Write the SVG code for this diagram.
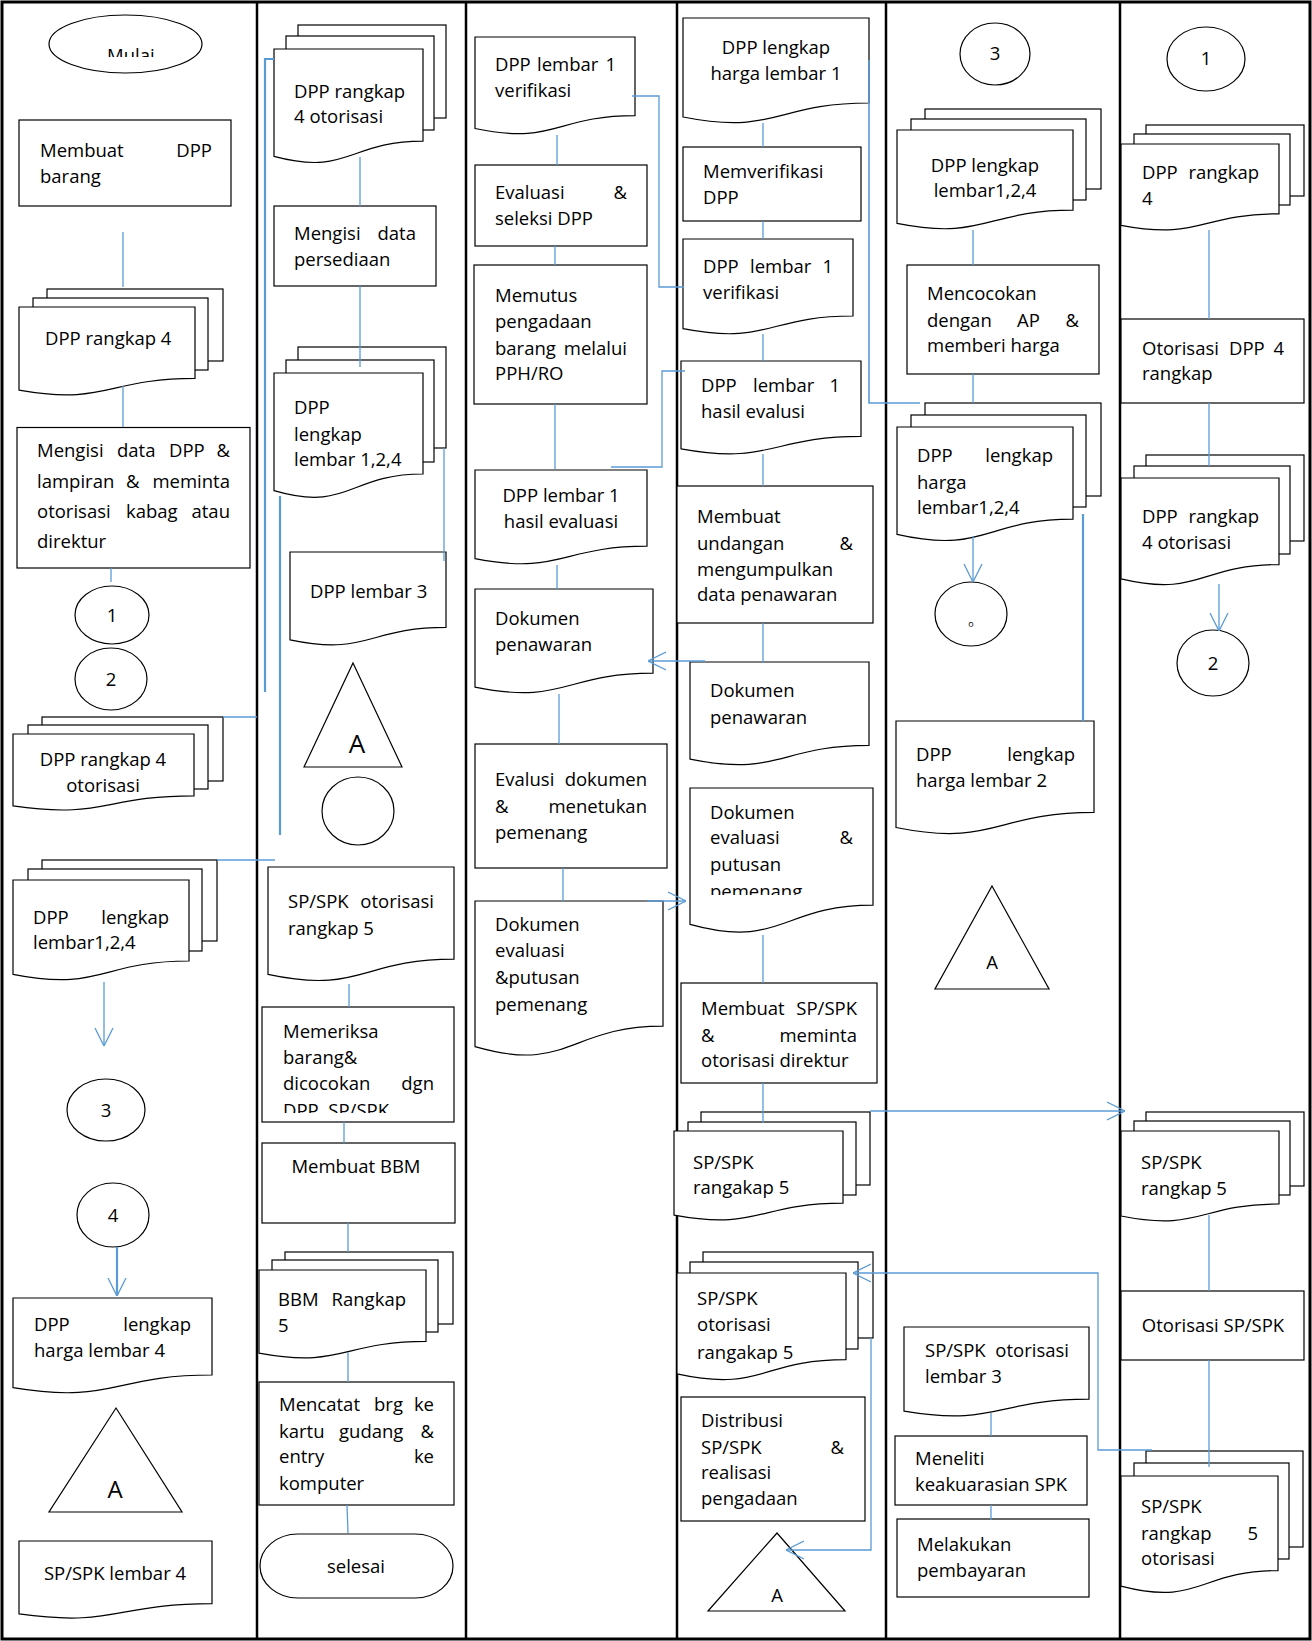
<svg xmlns="http://www.w3.org/2000/svg" width="1312" height="1641" viewBox="0 0 1312 1641">
<style>
.s{fill:#fff;stroke:#000;stroke-width:1.2}
.t{font-family:"Open Sans","Liberation Sans",sans-serif;font-size:18.5px;fill:#000}
.c{text-anchor:middle}
.e{text-anchor:end}
.k{fill:none;stroke:#5B9BD5;stroke-width:1.3}
.k2{fill:none;stroke:#5B9BD5;stroke-width:2.2}
.a{marker-end:url(#arr)}
.lane{stroke:#000;stroke-width:2.5}
</style>
<defs>
<marker id="arr" viewBox="0 0 18 20" refX="18" refY="10" markerWidth="18" markerHeight="20" markerUnits="userSpaceOnUse" orient="auto">
<path d="M0,1 L18,10 L0,19" fill="none" stroke="#5B9BD5" stroke-width="1.3"/>
</marker>
<clipPath id="clipMulai"><rect x="40" y="15" width="170" height="42"/></clipPath>
<clipPath id="clipPeriksa"><rect x="262" y="1007" width="192" height="106"/></clipPath>
<clipPath id="clipPemenang"><rect x="690" y="788" width="183" height="107"/></clipPath>
</defs>
<rect x="0" y="0" width="1312" height="1641" fill="#fff"/>
<g id="lanes">
<rect x="2" y="2" width="1308" height="1637" fill="none" stroke="#000" stroke-width="3"/>
<line class="lane" x1="257" y1="2" x2="257" y2="1639"/>
<line class="lane" x1="466" y1="2" x2="466" y2="1639"/>
<line class="lane" x1="677" y1="2" x2="677" y2="1639"/>
<line class="lane" x1="886" y1="2" x2="886" y2="1639"/>
<line class="lane" x1="1120" y1="2" x2="1120" y2="1639"/>
</g>

<!-- Column 1 -->
<g id="n-mulai">
<ellipse class="s" cx="125.5" cy="44" rx="76.5" ry="29"/>
<text class="t" x="107" y="62" clip-path="url(#clipMulai)">Mulai</text>
</g>
<g id="n-membuat-dpp">
<rect class="s" x="19" y="120" width="212" height="86"/>
<text class="t" x="40" y="157">Membuat</text><text class="t e" x="212" y="157">DPP</text>
<text class="t" x="40" y="183">barang</text>
</g>
<g id="n-dpp-rangkap4-c1">
<rect class="s" x="47" y="289" width="176" height="72"/>
<rect class="s" x="33" y="298" width="175" height="72"/>
<path class="s" d="M19,307 H195 V378.4 C107,378.4 107,405.6 19,390.1 Z"/>
<text class="t" x="45" y="345">DPP rangkap 4</text>
</g>
<g id="n-mengisi-dpp">
<rect class="s" x="17" y="427.5" width="233" height="140.5"/>
<text class="t" x="37" y="457">Mengisi</text><text class="t" x="117" y="457">data</text><text class="t" x="169" y="457">DPP</text><text class="t e" x="230" y="457">&amp;</text>
<text class="t" x="37" y="487.5">lampiran</text><text class="t" x="126" y="487.5">&amp;</text><text class="t e" x="230" y="487.5">meminta</text>
<text class="t" x="37" y="518">otorisasi</text><text class="t" x="126" y="518">kabag</text><text class="t e" x="230" y="518">atau</text>
<text class="t" x="37" y="548">direktur</text>
</g>
<g id="n-c1-1">
<ellipse class="s" cx="112" cy="615" rx="37" ry="29"/>
<text class="t c" x="112" y="621.5">1</text>
</g>
<g id="n-c1-2">
<ellipse class="s" cx="111" cy="679" rx="36" ry="31"/>
<text class="t c" x="111" y="686">2</text>
</g>
<g id="n-dpp-r4-otor-c1">
<rect class="s" x="42" y="717" width="181" height="64"/>
<rect class="s" x="28" y="725" width="180" height="64"/>
<path class="s" d="M13,734 H194 V795.8 C103.5,795.8 103.5,819.3 13,805.9 Z"/>
<text class="t c" x="103" y="766">DPP rangkap 4</text>
<text class="t c" x="103" y="792">otorisasi</text>
</g>
<g id="n-dpp-lengkap-c1">
<rect class="s" x="42" y="860" width="175" height="81"/>
<rect class="s" x="28" y="869" width="174" height="82"/>
<path class="s" d="M13,880 H189 V961 C101,961 101,991.9 13,974.3 Z"/>
<text class="t" x="33" y="924">DPP</text><text class="t e" x="169" y="924">lengkap</text>
<text class="t" x="33" y="949">lembar1,2,4</text>
</g>
<g id="n-c1-3">
<ellipse class="s" cx="106" cy="1110" rx="39" ry="31"/>
<text class="t c" x="106" y="1117">3</text>
</g>
<g id="n-c1-4">
<ellipse class="s" cx="113" cy="1215" rx="36" ry="32"/>
<text class="t c" x="113" y="1222">4</text>
</g>
<g id="n-dpp-harga-l4">
<path class="s" d="M13,1298 H212 V1375 C112.5,1375 112.5,1404.3 13,1387.7 Z"/>
<text class="t" x="34" y="1331">DPP</text><text class="t e" x="191" y="1331">lengkap</text>
<text class="t" x="34" y="1357">harga lembar 4</text>
</g>
<g id="n-c1-A">
<polygon class="s" points="116,1408 182,1512 49,1512"/>
<text class="t c" x="115" y="1498" style="font-size:24px">A</text>
</g>
<g id="n-spk-l4">
<path class="s" d="M19,1541 H212 V1603.6 C115.5,1603.6 115.5,1627.4 19,1613.9 Z"/>
<text class="t c" x="115" y="1580">SP/SPK lembar 4</text>
</g>

<!-- Column 2 -->
<g id="n-dpp-r4-otor-c2">
<rect class="s" x="298" y="25" width="148" height="93"/>
<rect class="s" x="286" y="36" width="148" height="94"/>
<path class="s" d="M274,49 H423 V141.2 C348.5,141.2 348.5,176.4 274,156.4 Z"/>
<text class="t" x="294" y="98">DPP rangkap</text>
<text class="t" x="294" y="123">4 otorisasi</text>
</g>
<g id="n-mengisi-persediaan">
<rect class="s" x="274" y="206" width="162" height="80"/>
<text class="t" x="294" y="240">Mengisi</text><text class="t e" x="416" y="240">data</text>
<text class="t" x="294" y="266">persediaan</text>
</g>
<g id="n-dpp-lengkap-c2">
<rect class="s" x="298" y="347" width="148" height="101"/>
<rect class="s" x="286" y="360" width="148" height="102"/>
<path class="s" d="M274,373 H423 V474 C348.5,474 348.5,512.5 274,490.7 Z"/>
<text class="t" x="294" y="414">DPP</text>
<text class="t" x="294" y="441">lengkap</text>
<text class="t" x="294" y="466">lembar 1,2,4</text>
</g>
<g id="n-dpp-l3">
<path class="s" d="M290,552 H446 V627.4 C368,627.4 368,656.1 290,639.8 Z"/>
<text class="t" x="310" y="598">DPP lembar 3</text>
</g>
<g id="n-c2-A">
<polygon class="s" points="353,663 402,767 304,767"/>
<text class="t c" x="357" y="753" style="font-size:26px">A</text>
</g>
<g id="n-c2-circle">
<ellipse class="s" cx="358" cy="811" rx="36" ry="34"/>
</g>
<g id="n-spk-otor-r5-c2">
<path class="s" d="M268,867 H454 V959.2 C361,959.2 361,994.4 268,974.4 Z"/>
<text class="t" x="288" y="908">SP/SPK</text><text class="t e" x="434" y="908">otorisasi</text>
<text class="t" x="288" y="935">rangkap 5</text>
</g>
<g id="n-memeriksa">
<rect class="s" x="262" y="1007" width="192" height="115"/>
<text class="t" x="283" y="1038">Memeriksa</text>
<text class="t" x="283" y="1064">barang&amp;</text>
<text class="t" x="283" y="1090">dicocokan</text><text class="t e" x="434" y="1090">dgn</text>
<text class="t" x="283" y="1117" clip-path="url(#clipPeriksa)">DPP. SP/SPK</text>
</g>
<g id="n-membuat-bbm">
<rect class="s" x="262" y="1143" width="193" height="80"/>
<text class="t c" x="356" y="1173">Membuat BBM</text>
</g>
<g id="n-bbm-r5">
<rect class="s" x="285" y="1252" width="168" height="72"/>
<rect class="s" x="272" y="1260" width="166" height="72"/>
<path class="s" d="M259,1270 H426 V1341.4 C342.5,1341.4 342.5,1368.6 259,1353.1 Z"/>
<text class="t" x="278" y="1306">BBM</text><text class="t e" x="406" y="1306">Rangkap</text>
<text class="t" x="278" y="1332">5</text>
</g>
<g id="n-mencatat">
<rect class="s" x="259" y="1382" width="195" height="123"/>
<text class="t" x="279" y="1411">Mencatat</text><text class="t" x="374" y="1411">brg</text><text class="t e" x="434" y="1411">ke</text>
<text class="t" x="279" y="1438">kartu</text><text class="t" x="339" y="1438">gudang</text><text class="t e" x="434" y="1438">&amp;</text>
<text class="t" x="279" y="1463">entry</text><text class="t e" x="434" y="1463">ke</text>
<text class="t" x="279" y="1490">komputer</text>
</g>
<g id="n-selesai">
<rect class="s" x="260" y="1534" width="193" height="64" rx="38" ry="32"/>
<text class="t c" x="356" y="1573">selesai</text>
</g>

<!-- Column 3 -->
<g id="n-dpp-l1-verif-c3">
<path class="s" d="M475,37 H635 V115.6 C555,115.6 555,145.5 475,128.5 Z"/>
<text class="t" x="495" y="71">DPP</text><text class="t" x="537" y="71">lembar</text><text class="t e" x="616" y="71">1</text>
<text class="t" x="495" y="97">verifikasi</text>
</g>
<g id="n-evaluasi-seleksi">
<rect class="s" x="475" y="165" width="172" height="81"/>
<text class="t" x="495" y="199">Evaluasi</text><text class="t e" x="627" y="199">&amp;</text>
<text class="t" x="495" y="225">seleksi DPP</text>
</g>
<g id="n-memutus">
<rect class="s" x="474" y="265" width="173" height="139"/>
<text class="t" x="495" y="302">Memutus</text>
<text class="t" x="495" y="328">pengadaan</text>
<text class="t" x="495" y="355">barang</text><text class="t e" x="627" y="355">melalui</text>
<text class="t" x="495" y="380">PPH/RO</text>
</g>
<g id="n-dpp-l1-hasil-c3">
<path class="s" d="M475,470 H647 V546.2 C561,546.2 561,575.2 475,558.7 Z"/>
<text class="t c" x="561" y="502">DPP lembar 1</text>
<text class="t c" x="561" y="528">hasil evaluasi</text>
</g>
<g id="n-dok-penawaran-c3">
<path class="s" d="M475,589 H653 V673.2 C564,673.2 564,705.3 475,687.1 Z"/>
<text class="t" x="495" y="625">Dokumen</text>
<text class="t" x="495" y="651">penawaran</text>
</g>
<g id="n-evalusi-dokumen">
<rect class="s" x="475" y="744" width="192" height="124"/>
<text class="t" x="495" y="786">Evalusi</text><text class="t e" x="647" y="786">dokumen</text>
<text class="t" x="495" y="813">&amp;</text><text class="t e" x="647" y="813">menetukan</text>
<text class="t" x="495" y="839">pemenang</text>
</g>
<g id="n-dok-evaluasi-c3">
<path class="s" d="M475,901 H663 V1026.1 C569,1026.1 569,1073.8 475,1046.7 Z"/>
<text class="t" x="495" y="931">Dokumen</text>
<text class="t" x="495" y="957">evaluasi</text>
<text class="t" x="495" y="984">&amp;putusan</text>
<text class="t" x="495" y="1011">pemenang</text>
</g>

<!-- Column 4 -->
<g id="n-dpp-harga-l1">
<path class="s" d="M683,18 H869 V103 C776,103 776,135.4 683,117 Z"/>
<text class="t c" x="776" y="54">DPP lengkap</text>
<text class="t c" x="776" y="80">harga lembar 1</text>
</g>
<g id="n-memverifikasi">
<rect class="s" x="683" y="147" width="178" height="74"/>
<text class="t" x="703" y="178">Memverifikasi</text>
<text class="t" x="703" y="204">DPP</text>
</g>
<g id="n-dpp-l1-verif-c4">
<path class="s" d="M683,239 H853 V316 C768,316 768,345.3 683,328.7 Z"/>
<text class="t" x="703" y="273">DPP</text><text class="t" x="750" y="273">lembar</text><text class="t e" x="833" y="273">1</text>
<text class="t" x="703" y="299">verifikasi</text>
</g>
<g id="n-dpp-l1-hasil-c4">
<path class="s" d="M681,361 H861 V436.4 C771,436.4 771,465.1 681,448.8 Z"/>
<text class="t" x="701" y="392">DPP</text><text class="t" x="753" y="392">lembar</text><text class="t e" x="840" y="392">1</text>
<text class="t" x="701" y="418">hasil evalusi</text>
</g>
<g id="n-membuat-undangan">
<rect class="s" x="677" y="486" width="196" height="137"/>
<text class="t" x="697" y="523">Membuat</text>
<text class="t" x="697" y="550">undangan</text><text class="t e" x="853" y="550">&amp;</text>
<text class="t" x="697" y="576">mengumpulkan</text>
<text class="t" x="697" y="601">data penawaran</text>
</g>
<g id="n-dok-penawaran-c4">
<path class="s" d="M690,662 H869 V745.4 C779.5,745.4 779.5,777.2 690,759.1 Z"/>
<text class="t" x="710" y="697">Dokumen</text>
<text class="t" x="710" y="724">penawaran</text>
</g>
<g id="n-dok-evaluasi-c4">
<path class="s" d="M690,788 H873 V905.1 C781.5,905.1 781.5,949.7 690,924.4 Z"/>
<text class="t" x="710" y="819">Dokumen</text>
<text class="t" x="710" y="844">evaluasi</text><text class="t e" x="853" y="844">&amp;</text>
<text class="t" x="710" y="871">putusan</text>
<text class="t" x="710" y="898" clip-path="url(#clipPemenang)">pemenang</text>
</g>
<g id="n-membuat-spk">
<rect class="s" x="681" y="983" width="196" height="100"/>
<text class="t" x="701" y="1015">Membuat</text><text class="t e" x="857" y="1015">SP/SPK</text>
<text class="t" x="701" y="1042">&amp;</text><text class="t e" x="857" y="1042">meminta</text>
<text class="t" x="701" y="1067">otorisasi direktur</text>
</g>
<g id="n-spk-r5-c4">
<rect class="s" x="701" y="1112" width="169" height="73"/>
<rect class="s" x="688" y="1122" width="168" height="73"/>
<path class="s" d="M674,1131 H843 V1203.2 C758.5,1203.2 758.5,1230.7 674,1215.1 Z"/>
<text class="t" x="693" y="1169">SP/SPK</text>
<text class="t" x="693" y="1194">rangakap 5</text>
</g>
<g id="n-spk-otor-r5-c4">
<rect class="s" x="703" y="1252" width="170" height="86"/>
<rect class="s" x="690" y="1262" width="168" height="87"/>
<path class="s" d="M677,1273 H846 V1359.6 C761.5,1359.6 761.5,1392.6 677,1373.9 Z"/>
<text class="t" x="697" y="1305">SP/SPK</text>
<text class="t" x="697" y="1331">otorisasi</text>
<text class="t" x="697" y="1359">rangakap 5</text>
</g>
<g id="n-distribusi">
<rect class="s" x="681" y="1397" width="184" height="124"/>
<text class="t" x="701" y="1427">Distribusi</text>
<text class="t" x="701" y="1454">SP/SPK</text><text class="t e" x="844" y="1454">&amp;</text>
<text class="t" x="701" y="1479">realisasi</text>
<text class="t" x="701" y="1505">pengadaan</text>
</g>
<g id="n-c4-A">
<polygon class="s" points="777,1533 845,1611 708,1611"/>
<text class="t c" x="777" y="1602">A</text>
</g>

<!-- Column 5 -->
<g id="n-c5-3">
<ellipse class="s" cx="995" cy="54" rx="35" ry="31"/>
<text class="t c" x="995" y="60">3</text>
</g>
<g id="n-dpp-lengkap-c5">
<rect class="s" x="925" y="109" width="176" height="80"/>
<rect class="s" x="911" y="119" width="175" height="81"/>
<path class="s" d="M897,130 H1073 V210.2 C985,210.2 985,240.8 897,223.4 Z"/>
<text class="t c" x="985" y="172">DPP lengkap</text>
<text class="t c" x="985" y="197">lembar1,2,4</text>
</g>
<g id="n-mencocokan">
<rect class="s" x="907" y="265" width="192" height="109"/>
<text class="t" x="927" y="300">Mencocokan</text>
<text class="t" x="927" y="327">dengan</text><text class="t" x="1017" y="327">AP</text><text class="t e" x="1079" y="327">&amp;</text>
<text class="t" x="927" y="352">memberi harga</text>
</g>
<g id="n-dpp-harga-124">
<rect class="s" x="925" y="403" width="176" height="93"/>
<rect class="s" x="911" y="415" width="175" height="92"/>
<path class="s" d="M897,427 H1073 V519.2 C985,519.2 985,554.4 897,534.4 Z"/>
<text class="t" x="917" y="462">DPP</text><text class="t e" x="1053" y="462">lengkap</text>
<text class="t" x="917" y="489">harga</text>
<text class="t" x="917" y="514">lembar1,2,4</text>
</g>
<g id="n-c5-circle">
<ellipse class="s" cx="971" cy="614" rx="36" ry="32"/>
<text class="t c" x="971" y="627" style="font-size:9px">o</text>
</g>
<g id="n-dpp-harga-l2">
<path class="s" d="M896,721 H1094 V812.4 C995,812.4 995,847.3 896,827.5 Z"/>
<text class="t" x="916" y="761">DPP</text><text class="t e" x="1075" y="761">lengkap</text>
<text class="t" x="916" y="787">harga lembar 2</text>
</g>
<g id="n-c5-A">
<polygon class="s" points="992,886 1049,989 935,989"/>
<text class="t c" x="992" y="969">A</text>
</g>
<g id="n-spk-otor-l3">
<path class="s" d="M904,1327 H1089 V1399.2 C996.5,1399.2 996.5,1426.7 904,1411.1 Z"/>
<text class="t" x="925" y="1357">SP/SPK</text><text class="t e" x="1069" y="1357">otorisasi</text>
<text class="t" x="925" y="1383">lembar 3</text>
</g>
<g id="n-meneliti">
<rect class="s" x="895" y="1436" width="192" height="69"/>
<text class="t" x="915" y="1465">Meneliti</text>
<text class="t" x="915" y="1491">keakuarasian SPK</text>
</g>
<g id="n-pembayaran">
<rect class="s" x="897" y="1519" width="192" height="78"/>
<text class="t" x="917" y="1551">Melakukan</text>
<text class="t" x="917" y="1577">pembayaran</text>
</g>

<!-- Column 6 -->
<g id="n-c6-1">
<ellipse class="s" cx="1206" cy="59" rx="39" ry="32"/>
<text class="t c" x="1206" y="65">1</text>
</g>
<g id="n-dpp-r4-c6">
<rect class="s" x="1146" y="125" width="158" height="71"/>
<rect class="s" x="1134" y="134" width="156" height="71"/>
<path class="s" d="M1121,144 H1279 V213.8 C1200,213.8 1200,240.4 1121,225.3 Z"/>
<text class="t" x="1142" y="179">DPP</text><text class="t e" x="1259" y="179">rangkap</text>
<text class="t" x="1142" y="205">4</text>
</g>
<g id="n-otorisasi-dpp">
<rect class="s" x="1121" y="319" width="183" height="84"/>
<text class="t" x="1142" y="355">Otorisasi</text><text class="t" x="1229" y="355">DPP</text><text class="t e" x="1284" y="355">4</text>
<text class="t" x="1142" y="380">rangkap</text>
</g>
<g id="n-dpp-r4-otor-c6">
<rect class="s" x="1146" y="455" width="158" height="86"/>
<rect class="s" x="1134" y="466" width="156" height="88"/>
<path class="s" d="M1121,478 H1279 V564.6 C1200,564.6 1200,597.6 1121,578.9 Z"/>
<text class="t" x="1142" y="523">DPP</text><text class="t e" x="1259" y="523">rangkap</text>
<text class="t" x="1142" y="549">4 otorisasi</text>
</g>
<g id="n-c6-2">
<ellipse class="s" cx="1213" cy="663" rx="36" ry="33"/>
<text class="t c" x="1213" y="670">2</text>
</g>
<g id="n-spk-r5-c6">
<rect class="s" x="1146" y="1112" width="158" height="74"/>
<rect class="s" x="1134" y="1121" width="156" height="74"/>
<path class="s" d="M1121,1131 H1279 V1204 C1200,1204 1200,1231.8 1121,1216 Z"/>
<text class="t" x="1141" y="1169">SP/SPK</text>
<text class="t" x="1141" y="1195">rangkap 5</text>
</g>
<g id="n-otorisasi-spk">
<rect class="s" x="1121" y="1291" width="183" height="69"/>
<text class="t c" x="1213" y="1332">Otorisasi SP/SPK</text>
</g>
<g id="n-spk-r5-otor-c6">
<rect class="s" x="1146" y="1451" width="157" height="96"/>
<rect class="s" x="1134" y="1463" width="155" height="96"/>
<path class="s" d="M1121,1476 H1278 V1570.6 C1199.5,1570.6 1199.5,1606.7 1121,1586.2 Z"/>
<text class="t" x="1141" y="1513">SP/SPK</text>
<text class="t" x="1141" y="1540">rangkap</text><text class="t e" x="1258" y="1540">5</text>
<text class="t" x="1141" y="1565">otorisasi</text>
</g>

<g id="connectors">
<path class="k" d="M123,232 V287"/>
<path class="k" d="M123,386 V427"/>
<path class="k" d="M111,568 V582"/>
<path class="k" d="M223,717 H257"/>
<path class="k" d="M217,860 H275"/>
<path class="k a" d="M104,982 V1046"/>
<path class="k2 a" d="M117,1247 V1296"/>
<path class="k2" d="M274,59 H265 V692"/>
<path class="k" d="M360,157 V206"/>
<path class="k" d="M360,286 V367"/>
<path class="k2" d="M280,496 V835"/>
<path class="k" d="M444,448 V561"/>
<path class="k" d="M349,984 V1007"/>
<path class="k" d="M344,1122 V1143"/>
<path class="k" d="M348,1223 V1252"/>
<path class="k" d="M348,1352 V1382"/>
<path class="k" d="M347,1505 L348,1533"/>
<path class="k" d="M632,96 H659 V287 H684"/>
<path class="k" d="M557,135 V165"/>
<path class="k" d="M555,246 V265"/>
<path class="k" d="M555,404 V469"/>
<path class="k" d="M611,467 H662 V371 H685"/>
<path class="k" d="M557,565 V589"/>
<path class="k" d="M559,694 V744"/>
<path class="k" d="M563,868 V901"/>
<path class="k a" d="M647,901 H686"/>
<path class="k" d="M869,60 V403 H920" style="stroke-width:1.6"/>
<path class="k" d="M763,123 V147"/>
<path class="k" d="M763,221 V239"/>
<path class="k" d="M763,334 V361"/>
<path class="k" d="M763,454 V486"/>
<path class="k" d="M763,623 V663"/>
<path class="k a" d="M705,661 H648"/>
<path class="k" d="M763,935 V983"/>
<path class="k" d="M763,1083 V1123"/>
<path class="k a" d="M870,1111 H1125"/>
<path class="k a" d="M1152,1450 H1098 V1273 H853"/>
<path class="k a" d="M871,1338 V1550 H786"/>
<path class="k" d="M973,230 V265"/>
<path class="k" d="M973,374 V403"/>
<path class="k a" d="M973,536 V582"/>
<path class="k2" d="M1083,514 V721"/>
<path class="k" d="M991,1413 V1436"/>
<path class="k" d="M991,1505 V1520"/>
<path class="k" d="M1209,230 V319"/>
<path class="k" d="M1209,403 V466"/>
<path class="k a" d="M1219,584 V631"/>
<path class="k" d="M1209,1215 V1291"/>
<path class="k" d="M1209,1360 V1467"/>
</g>
</svg>
